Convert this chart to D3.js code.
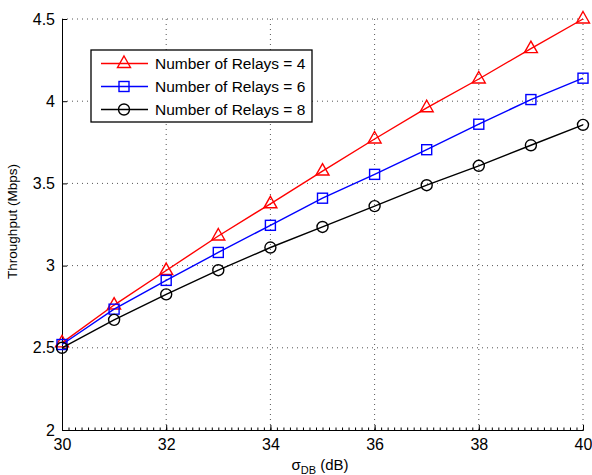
<!DOCTYPE html>
<html>
<head>
<meta charset="utf-8">
<script src="https://cdn.jsdelivr.net/npm/d3@7"></script>
<style>
  body { margin: 0; background: #fff; }
  text { font-family: "Liberation Sans", Arial, sans-serif; }
</style>
</head>
<body>
<div id="chart"></div>
<script>
// data
var sigma = [30, 31, 32, 33, 34, 35, 36, 37, 38, 39, 40];
var relays4 = [2.53, 2.76, 2.97, 3.18, 3.376, 3.575, 3.77, 3.96, 4.135, 4.32, 4.5];
var relays6 = [2.52, 2.735, 2.91, 3.08, 3.245, 3.41, 3.555, 3.705, 3.86, 4.01, 4.14];
var relays8 = [2.50, 2.67, 2.825, 2.972, 3.11, 3.235, 3.362, 3.489, 3.607, 3.732, 3.856];
var xTicks = [30, 32, 34, 36, 38, 40];
var yTicks = [2, 2.5, 3, 3.5, 4, 4.5];
var seriesNames = ["Number of Relays = 4", "Number of Relays = 6", "Number of Relays = 8"];

var svgWidth = 592;
var svgHeight = 475;
var margin = { top: 19, right: 9, bottom: 45, left: 62 };
var width = svgWidth - margin.left - margin.right;
var height = svgHeight - margin.top - margin.bottom;

var svg = d3.select("#chart")
  .append("svg")
  .attr("width", svgWidth)
  .attr("height", svgHeight);

var chartGroup = svg.append("g")
  .attr("transform", `translate(${margin.left}, ${margin.top})`);

var x = d3.scaleLinear().domain([30, 40]).range([0, width]);
var y = d3.scaleLinear().domain([2, 4.5]).range([height, 0]);

// grid
chartGroup.selectAll(".gx")
  .data(xTicks.slice(1))
  .enter()
  .append("line")
  .attr("x1", d => x(d)).attr("x2", d => x(d))
  .attr("y1", 0).attr("y2", height)
  .attr("stroke", "#555")
  .attr("stroke-width", 1)
  .attr("stroke-dasharray", "1,4");

chartGroup.selectAll(".gy")
  .data(yTicks.slice(1))
  .enter()
  .append("line")
  .attr("x1", 0).attr("x2", width)
  .attr("y1", d => y(d)).attr("y2", d => y(d))
  .attr("stroke", "#555")
  .attr("stroke-width", 1)
  .attr("stroke-dasharray", "1,4");

// axes
var bottomAxis = d3.axisBottom(x).tickValues(xTicks).tickSize(-5).tickPadding(9).tickFormat(d3.format("d"));
var leftAxis = d3.axisLeft(y).tickValues(yTicks).tickSize(-5).tickPadding(7).tickFormat(d => d);

var minor = d3.range(30, 40.001, 0.125);
chartGroup.append("g")
  .attr("transform", `translate(0, ${height})`)
  .call(d3.axisBottom(x).tickValues(minor).tickSize(-2.5).tickFormat(""))
  .call(g => g.select(".domain").remove());

var gx = chartGroup.append("g")
  .attr("transform", `translate(0, ${height})`)
  .call(bottomAxis);
var gy = chartGroup.append("g")
  .call(leftAxis);

[gx, gy].forEach(function(g) {
  g.selectAll("text").style("font-size", "16px").attr("fill", "#000");
  g.select(".domain").attr("stroke", "#000");
});
gx.selectAll("text").attr("dy", "0.71em");

// lines
var seriesList = [
  { values: relays4, color: "#ff0000", marker: "triangle" },
  { values: relays6, color: "#0000ff", marker: "square" },
  { values: relays8, color: "#000000", marker: "circle" }
];

var line = d3.line()
  .x(d => x(d[0]))
  .y(d => y(d[1]));

function drawMarker(g, type, color, cx, cy) {
  if (type == "triangle") {
    g.append("path")
      .attr("d", `M${cx},${cy - 7.5} L${cx + 6.5},${cy + 4} L${cx - 6.5},${cy + 4} Z`)
      .attr("fill", "none").attr("stroke", color).attr("stroke-width", 1.4);
  } else if (type == "square") {
    g.append("rect")
      .attr("x", cx - 5).attr("y", cy - 5).attr("width", 10).attr("height", 10)
      .attr("fill", "none").attr("stroke", color).attr("stroke-width", 1.4);
  } else {
    g.append("circle")
      .attr("cx", cx).attr("cy", cy).attr("r", 5.5)
      .attr("fill", "none").attr("stroke", color).attr("stroke-width", 1.4);
  }
}

seriesList.forEach(function(s) {
  var pts = sigma.map((v, i) => [v, s.values[i]]);
  chartGroup.append("path")
    .datum(pts)
    .attr("d", line)
    .attr("fill", "none")
    .attr("stroke", s.color)
    .attr("stroke-width", 1.4);
  pts.forEach(function(p) {
    drawMarker(chartGroup, s.marker, s.color, x(p[0]), y(p[1]));
  });
});

// legend
var legend = svg.append("g").attr("transform", "translate(91, 50)");
legend.append("rect")
  .attr("width", 221).attr("height", 72)
  .attr("fill", "#fff").attr("stroke", "#000").attr("stroke-width", 1.3);

seriesList.forEach(function(s, i) {
  var ly = 13.5 + i * 23;
  legend.append("line")
    .attr("x1", 10).attr("x2", 57).attr("y1", ly).attr("y2", ly)
    .attr("stroke", s.color).attr("stroke-width", 1.4);
  drawMarker(legend, s.marker, s.color, 33, ly);
  legend.append("text")
    .attr("x", 64).attr("y", ly)
    .attr("dy", "0.35em")
    .style("font-size", "15.5px")
    .text(seriesNames[i]);
});

// axis labels
chartGroup.append("text")
  .attr("transform", "rotate(-90)")
  .attr("x", 0 - height / 2 + 3)
  .attr("y", -45)
  .style("font-size", "13.5px")
  .style("text-anchor", "middle")
  .text("Throughput (Mbps)");

var xl = svg.append("text")
  .attr("x", 320)
  .attr("y", 470)
  .style("font-size", "15px")
  .style("text-anchor", "middle");
xl.append("tspan").text("σ");
xl.append("tspan").attr("dy", 4).style("font-size", "11px").text("DB");
xl.append("tspan").attr("dy", -4).text(" (dB)");
</script>
</body>
</html>
